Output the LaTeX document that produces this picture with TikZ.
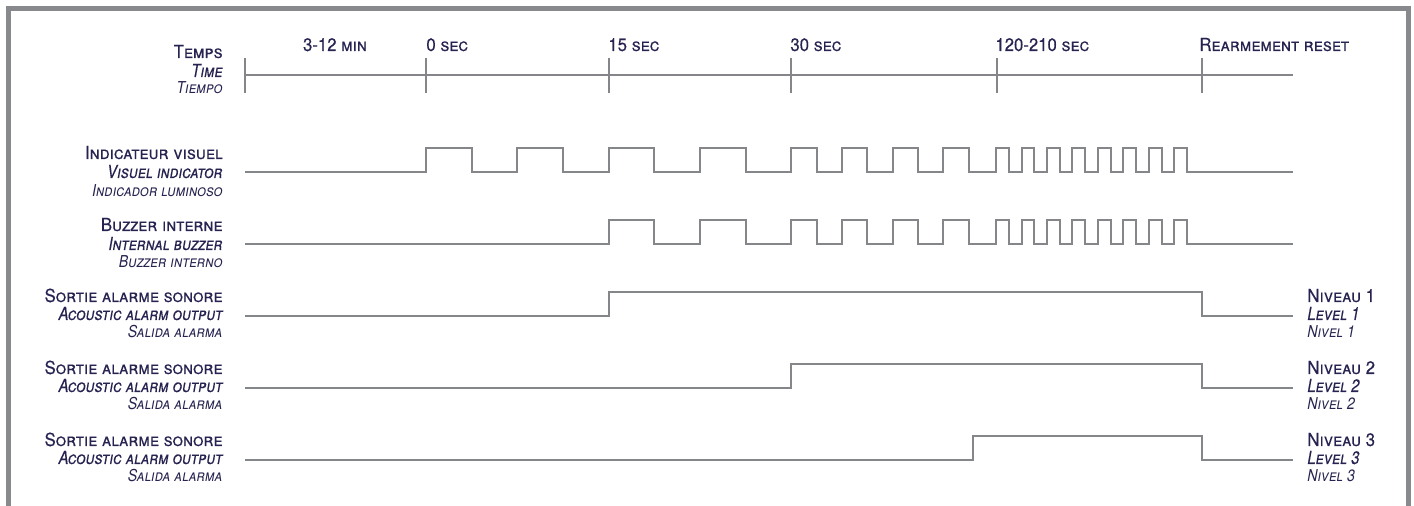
\documentclass[tikz,border=0pt]{standalone}
\usepackage{fontspec}
\setmainfont[FakeStretch=0.93, FakeBold=0.3]{TeX Gyre Heros}
\newfontfamily\enfont[FakeStretch=0.83, FakeBold=0.3]{TeX Gyre Heros}
\newfontfamily\esfont[FakeStretch=0.86]{TeX Gyre Heros}
\usepackage{tikz}

\definecolor{wavegray}{RGB}{133,134,137}
\definecolor{framegray}{RGB}{136,137,140}
\definecolor{labelnavy}{RGB}{38,35,80}

\begin{document}
\begin{tikzpicture}[x=0.5pt, y=-0.5pt,
    wave/.style={wavegray, line width=1.1pt},
    lab/.style={labelnavy, inner sep=0pt, anchor=base east},
    rlab/.style={labelnavy, inner sep=0pt, anchor=base west},
    fr/.style={font=\fontsize{9}{10}\selectfont\scshape},
    en/.style={font=\enfont\fontsize{9}{10}\selectfont\itshape\scshape},
    es/.style={font=\esfont\fontsize{8.2}{9}\selectfont\itshape\scshape}]
    \useasboundingbox (0,0) rectangle (1414,506);

    \draw[framegray, line width=2.5pt] (8.5,506) -- (8.5,8.5) -- (1408,8.5) -- (1408,506); % frame

%time axis
    \draw[wave] (245,75) -- (1293,75);
    \foreach \t in {245,426,609,791,997,1202}
        \draw[wave] (\t,58) -- (\t,93); % ticks

    \node[lab, fr] (temps) at (223,58) {Temps};
    \node[lab, en] (time) at (223,77) {Time};
    \node[lab, es] (tiempo) at (223,94) {Tiempo};

    \node[rlab, fr, anchor=base] (tmin) at (335,51) {3-12 min};
    \node[rlab, fr] (tzero) at (426,51) {0 sec};
    \node[rlab, fr] (tfifteen) at (608,51) {15 sec};
    \node[rlab, fr] (tthirty) at (790,51) {30 sec};
    \node[rlab, fr] (tlong) at (995,51) {120-210 sec};
    \node[rlab, fr] (treset) at (1199,51) {Rearmement reset};

%visual indicator
    \draw[wave] (245,172) \foreach \r/\f in {426/472, 517/563, 609/654, 700/746,
        791/817, 842/867, 893/918, 943/969, 996/1009, 1022/1034, 1047/1060,
        1072/1085, 1098/1111, 1123/1136, 1149/1162, 1174/1187}
        { -- (\r,172) -- (\r,148) -- (\f,148) -- (\f,172) } -- (1293,172);
    \node[lab, fr] (ind) at (223,159) {Indicateur visuel};
    \node[lab, en] (indEN) at (223,178) {Visuel indicator};
    \node[lab, es] (indES) at (223,197) {Indicador luminoso};

%internal buzzer
    \draw[wave] (245,244) \foreach \r/\f in {609/654, 700/746,
        791/817, 842/867, 893/918, 943/969, 996/1009, 1022/1034, 1047/1060,
        1072/1085, 1098/1111, 1123/1136, 1149/1162, 1174/1187}
        { -- (\r,244) -- (\r,220) -- (\f,220) -- (\f,244) } -- (1293,244);
    \node[lab, fr] (buz) at (223,231) {Buzzer interne};
    \node[lab, en] (buzEN) at (223,250) {Internal buzzer};
    \node[lab, es] (buzES) at (223,268) {Buzzer interno};

%alarm outputs
    \foreach \n/\lo/\on in {1/316/609, 2/388/791, 3/460/973} {
        \draw[wave] (245,\lo) -- (\on,\lo) -- (\on,\lo-24) -- (1202,\lo-24)
            -- (1202,\lo) -- (1293,\lo);
        \node[lab, fr] (out\n) at (223,\lo-14) {Sortie alarme sonore};
        \node[lab, en] (outEN\n) at (223,\lo+4) {Acoustic alarm output};
        \node[lab, es] (outES\n) at (223,\lo+22) {Salida alarma};
        \node[rlab, fr] (niv\n) at (1307,\lo-14) {Niveau \n};
        \node[rlab, en] (lev\n) at (1307,\lo+4) {Level \n};
        \node[rlab, es] (nivES\n) at (1307,\lo+22) {Nivel \n};
    }
\end{tikzpicture}
\end{document}
